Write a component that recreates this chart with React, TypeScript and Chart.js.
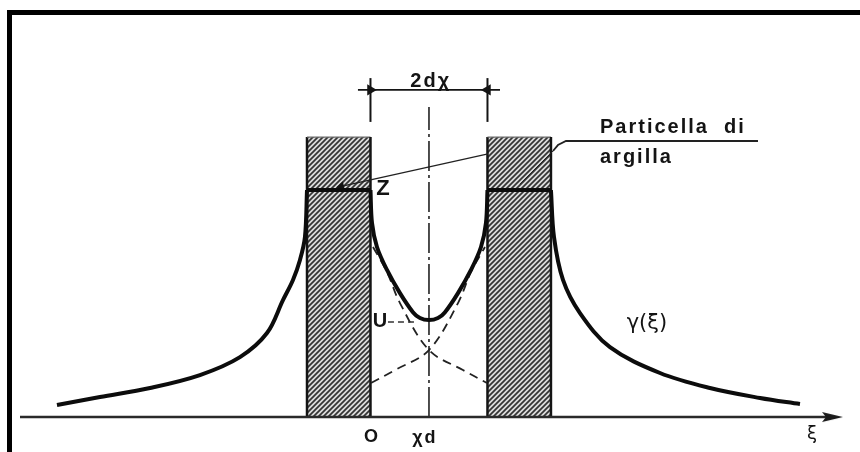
import React, { useEffect, useRef } from "react";
import { Chart, registerables } from "chart.js";

Chart.register(...registerables);

// Horizontal coordinate ξ is measured in units of χd (O = inner face of the left particle).
// Potential profile γ(ξ): outside the left particle, between the particles, outside the right one.
const outerLeftXi = [-5.359, -4.624, -3.769, -2.915, -2.231, -1.769, -1.496, -1.325, -1.205, -1.12, -1.085];
const outerLeftVal = [0.053, 0.088, 0.128, 0.185, 0.264, 0.37, 0.515, 0.604, 0.692, 0.793, 1.0];
const innerXi = [0, 0.026, 0.111, 0.282, 0.504, 0.726, 0.846, 1.0, 1.154, 1.274, 1.496, 1.718, 1.889, 1.974, 2.0];
const innerVal = [1.0, 0.855, 0.749, 0.648, 0.546, 0.462, 0.436, 0.427, 0.436, 0.462, 0.546, 0.648, 0.749, 0.855, 1.0];
const outerRightXi = [3.085, 3.137, 3.291, 3.581, 4.094, 4.949, 5.803, 6.658, 7.342];
const outerRightVal = [1.0, 0.793, 0.604, 0.458, 0.308, 0.194, 0.128, 0.084, 0.057];

// Surface potential Z (flat across each particle)
const surfaceZ = 1.0;

// Single-particle contributions between the plates (dashed)
const leftDecayXi = [0.043, 0.282, 0.504, 1.0, 1.581, 1.991];
const leftDecayVal = [0.749, 0.639, 0.502, 0.295, 0.207, 0.15];
const rightDecayXi = [0.009, 0.419, 1.0, 1.496, 1.718, 1.957];
const rightDecayVal = [0.15, 0.207, 0.295, 0.502, 0.639, 0.749];

// Particle extents and height
const leftParticle = [-1.085, 0];
const rightParticle = [2, 3.085];
const particleTop = 1.233;

// Mid-plane (ξ = χd) and its height
const midPlane = 1;
const midPlaneTop = 1.366;

// Dimension 2dχ
const dimEnds = [-0.214, 2.214];
const dimLevel = 1.441;
const dimTicks = [0, 2];
const dimTickSpan = [1.3, 1.493];

// ξ axis
const axisRange = [-5.991, 7.889];

// Leader lines
const leaderXi = [6.624, 3.342, 3.205, 3.12, 2.556];
const leaderVal = [1.216, 1.216, 1.198, 1.172, 1.026];
const pointerXi = [2.009, -0.5];
const pointerVal = [1.159, 1.016];
const uLeadXi = [0.299, 0.761];
const uLeadVal = [0.419, 0.419];

const pts = (xs: number[], ys: number[]) => xs.map((x, i) => ({ x, y: ys[i] }));

function makeHatch(): CanvasPattern | string {
  const c = document.createElement("canvas");
  c.width = 5;
  c.height = 5;
  const g = c.getContext("2d");
  if (!g) return "#999";
  g.fillStyle = "#dcdcdc";
  g.fillRect(0, 0, 5, 5);
  g.strokeStyle = "#333";
  g.lineWidth = 1.7;
  g.beginPath();
  g.moveTo(-1, 6);
  g.lineTo(6, -1);
  g.moveTo(-4, 4);
  g.lineTo(4, -4);
  g.moveTo(1, 9);
  g.lineTo(9, 1);
  g.stroke();
  const p = g.createPattern(c, "repeat");
  return p || "#999";
}

function makeArrowHead(): HTMLCanvasElement {
  const c = document.createElement("canvas");
  c.width = 22;
  c.height = 12;
  const g = c.getContext("2d");
  if (g) {
    g.fillStyle = "#1a1a1a";
    g.beginPath();
    g.moveTo(1, 1);
    g.lineTo(22, 6);
    g.lineTo(1, 11);
    g.lineTo(5, 6);
    g.closePath();
    g.fill();
  }
  return c;
}

const labelPlugin = {
  id: "diagramLabels",
  afterDatasetsDraw(chart: any) {
    const { ctx, scales } = chart;
    const X = (v: number) => scales.x.getPixelForValue(v);
    const Y = (v: number) => scales.y.getPixelForValue(v);
    const bold = (s: number) => `bold ${s}px "Liberation Sans", Arial, sans-serif`;
    ctx.save();
    ctx.fillStyle = "#141414";
    ctx.textAlign = "center";
    ctx.textBaseline = "middle";

    ctx.font = bold(20);
    (ctx as any).letterSpacing = "2px";
    ctx.fillText("2dχ", X(1.03), Y(1.48));
    (ctx as any).letterSpacing = "0px";

    ctx.font = bold(22);
    ctx.fillText("Z", X(0.214), Y(1.004));
    ctx.font = bold(20);
    ctx.fillText("U", X(0.162), Y(0.419));
    ctx.font = bold(18);
    ctx.fillText("O", X(0.009), Y(-0.088));
    (ctx as any).letterSpacing = "2px";
    ctx.fillText("χd", X(0.93), Y(-0.093));
    (ctx as any).letterSpacing = "0px";

    ctx.font = `18px "DejaVu Sans", Arial, sans-serif`;
    ctx.fillText("ξ", X(7.547), Y(-0.075));
    ctx.font = `21px "DejaVu Sans", Arial, sans-serif`;
    ctx.fillText("γ(ξ)", X(4.726), Y(0.414));

    ctx.textAlign = "left";
    ctx.textBaseline = "alphabetic";
    ctx.font = bold(20);
    (ctx as any).letterSpacing = "2px";
    ctx.fillText("Particella  di", X(3.923), Y(1.251));
    ctx.fillText("argilla", X(3.923), Y(1.119));
    ctx.restore();
  },
};

export default function App() {
  const ref = useRef<HTMLCanvasElement | null>(null);

  useEffect(() => {
    if (!ref.current) return;
    const hatch = makeHatch();
    const arrowHead = makeArrowHead();
    const ink = "#141414";

    const particle = (ends: number[]) => ({
      data: [
        { x: ends[0], y: 0 },
        { x: ends[0], y: particleTop },
        { x: ends[1], y: particleTop },
        { x: ends[1], y: 0 },
      ],
      showLine: true,
      fill: "origin",
      backgroundColor: hatch,
      borderColor: ink,
      borderWidth: 2.5,
      pointRadius: 0,
      tension: 0,
      order: 20,
      segment: {
        borderColor: (c: any) => (c.p0DataIndex === 1 ? "#6a6a6a" : undefined),
        borderWidth: (c: any) => (c.p0DataIndex === 1 ? 1.2 : undefined),
      },
    });

    const profile = (xs: number[], ys: number[]) => ({
      data: pts(xs, ys),
      showLine: true,
      borderColor: "#0c0c0c",
      borderWidth: 4,
      tension: 0.35,
      pointRadius: 0,
      order: 1,
    });

    const plateau = (ends: number[]) => ({
      data: [
        { x: ends[0], y: surfaceZ },
        { x: ends[1], y: surfaceZ },
      ],
      showLine: true,
      borderColor: "#0c0c0c",
      borderWidth: 4,
      pointRadius: 0,
      order: 1,
    });

    const dashed = (xs: number[], ys: number[]) => ({
      data: pts(xs, ys),
      showLine: true,
      borderColor: "#222",
      borderWidth: 1.8,
      borderDash: [9, 6],
      tension: 0.35,
      pointRadius: 0,
      order: 5,
    });

    const chart = new Chart(ref.current, {
      type: "scatter",
      data: {
        datasets: [
          particle(leftParticle),
          particle(rightParticle),
          profile(outerLeftXi, outerLeftVal),
          profile(innerXi, innerVal),
          profile(outerRightXi, outerRightVal),
          plateau(leftParticle),
          plateau(rightParticle),
          dashed(leftDecayXi, leftDecayVal),
          dashed(rightDecayXi, rightDecayVal),
          {
            data: [
              { x: midPlane, y: 0 },
              { x: midPlane, y: midPlaneTop },
            ],
            showLine: true,
            borderColor: "#222",
            borderWidth: 1.6,
            borderDash: [30, 4, 3, 4],
            pointRadius: 0,
            order: 6,
          },
          {
            data: [
              { x: axisRange[0], y: 0 },
              { x: axisRange[1], y: 0 },
            ],
            showLine: true,
            borderColor: "#2a2a2a",
            borderWidth: 2.5,
            pointRadius: [0, 11],
            pointStyle: arrowHead,
            order: 2,
          },
          {
            data: [
              { x: dimEnds[0], y: dimLevel },
              { x: dimEnds[1], y: dimLevel },
            ],
            showLine: true,
            borderColor: ink,
            borderWidth: 1.6,
            pointRadius: 0,
            order: 3,
          },
          ...dimTicks.map((t, i) => ({
            data: [
              { x: t, y: dimTickSpan[0] },
              { x: t, y: dimLevel },
              { x: t, y: dimTickSpan[1] },
            ],
            showLine: true,
            borderColor: ink,
            borderWidth: 2,
            pointStyle: "triangle",
            pointRadius: [0, 4.5, 0],
            pointRotation: i === 0 ? 90 : 270,
            pointBackgroundColor: ink,
            pointBorderColor: ink,
            order: 3,
          })),
          {
            data: pts(leaderXi, leaderVal),
            showLine: true,
            borderColor: "#222",
            borderWidth: 1.8,
            pointRadius: 0,
            tension: 0,
            order: 4,
            segment: {
              borderWidth: (c: any) => (c.p0DataIndex === 3 ? 1 : undefined),
            },
          },
          {
            data: pts(pointerXi, pointerVal),
            showLine: true,
            borderColor: "#222",
            borderWidth: 1.3,
            pointStyle: "triangle",
            pointRadius: [0, 4],
            pointRotation: 258,
            pointBackgroundColor: ink,
            pointBorderColor: ink,
            order: 4,
          },
          {
            data: pts(uLeadXi, uLeadVal),
            showLine: true,
            borderColor: "#333",
            borderWidth: 1.5,
            borderDash: [6, 4],
            pointRadius: 0,
            order: 4,
          },
        ] as any,
      },
      options: {
        animation: false,
        responsive: false,
        maintainAspectRatio: false,
        events: [],
        layout: { padding: 0, autoPadding: false },
        plugins: {
          legend: { display: false },
          tooltip: { enabled: false },
        },
        scales: {
          x: { type: "linear", min: -6.333, max: 8.368, display: false },
          y: { type: "linear", min: -0.154, max: 1.837, display: false },
        },
      },
      plugins: [labelPlugin],
    });
    return () => chart.destroy();
  }, []);

  return (
    <div style={{ position: "absolute", left: 0, top: 0, width: 860, height: 452, background: "#fff" }}>
      <div
        style={{
          position: "absolute",
          left: 7,
          top: 10,
          width: 853,
          height: 442,
          boxSizing: "border-box",
          borderTop: "5px solid #000",
          borderLeft: "5px solid #000",
        }}
      />
      <canvas
        ref={ref}
        width={860}
        height={452}
        style={{ position: "absolute", left: 0, top: 0, display: "block" }}
      />
    </div>
  );
}
